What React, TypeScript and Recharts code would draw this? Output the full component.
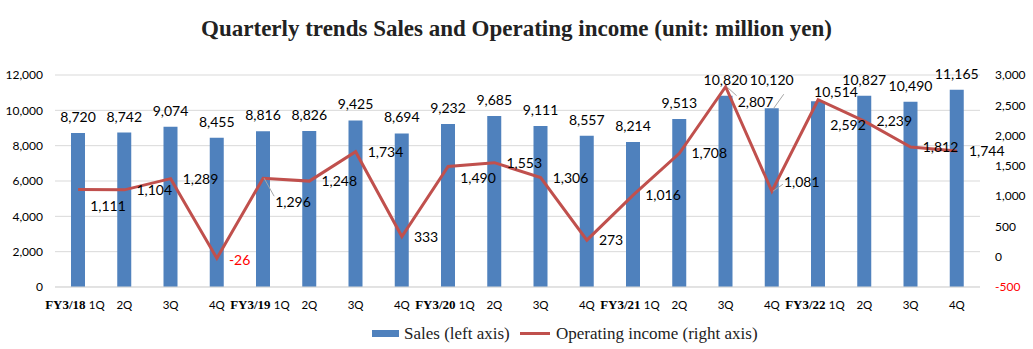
import {
  ComposedChart,
  Bar,
  Line,
  XAxis,
  YAxis,
  CartesianGrid,
  LabelList,
} from "recharts";

const quarters = [
  "FY3/18 1Q", "2Q", "3Q", "4Q",
  "FY3/19 1Q", "2Q", "3Q", "4Q",
  "FY3/20 1Q", "2Q", "3Q", "4Q",
  "FY3/21 1Q", "2Q", "3Q", "4Q",
  "FY3/22 1Q", "2Q", "3Q", "4Q",
];

const sales = [
  8720, 8742, 9074, 8455,
  8816, 8826, 9425, 8694,
  9232, 9685, 9111, 8557,
  8214, 9513, 10820, 10120,
  10514, 10827, 10490, 11165,
];

const operatingIncome = [
  1111, 1104, 1289, -26,
  1296, 1248, 1734, 333,
  1490, 1553, 1306, 273,
  1016, 1708, 2807, 1081,
  2592, 2239, 1812, 1744,
];

const leftTicks = [0, 2000, 4000, 6000, 8000, 10000, 12000];
const rightTicks = [-500, 0, 500, 1000, 1500, 2000, 2500, 3000];

// label placement tweaks (Excel moved a few labels around)
const incomeLabelDy = [17, 0, 0, 2, 24, 0, 0, 0, 12, 0, 0, 0, 0, 0, 15, -9, 25, 0, 0, 0];
const incomeLeaders = [4, 14, 15];
const salesLabelShift: Record<number, [number, number]> = {
  15: [0, -12],
  16: [18, 7],
};

const BAR_COLOR = "#4F81BD";
const LINE_COLOR = "#C0504D";
const GRID_COLOR = "#D9D9D9";
const SANS = "Lato, 'Noto Sans', sans-serif";
const SERIF = "'Liberation Serif', 'Times New Roman', serif";

const data = quarters.map((q, i) => ({
  quarter: q,
  sales: sales[i],
  income: operatingIncome[i],
}));

const fmt = (v: number) => v.toLocaleString("en-US");

const QuarterTick = (props: any) => {
  const { x, y, payload } = props;
  const label: string = payload.value;
  const parts = label.split(" ");
  if (parts.length > 1) {
    // fiscal-year labels hang to the left of the bar, like Excel does
    return (
      <text x={x - 33} y={y} dy="0.71em" textAnchor="start" fontSize={11.5} fill="#000">
        <tspan fontFamily={SERIF} fontWeight="bold" fontSize={13}>
          {parts[0] + " "}
        </tspan>
        <tspan fontFamily={SANS}>{parts[1]}</tspan>
      </text>
    );
  }
  return (
    <text x={x} y={y} dy="0.71em" textAnchor="middle" fontSize={11.5} fontFamily={SANS} fill="#000">
      {label}
    </text>
  );
};

const RightTick = (props: any) => {
  const { x, y, payload } = props;
  return (
    <text
      x={x}
      y={y}
      dy="0.355em"
      textAnchor="start"
      fontSize={12}
      fontFamily={SANS}
      fill={payload.value < 0 ? "#FF0000" : "#000"}
    >
      {fmt(payload.value)}
    </text>
  );
};

const SalesLabel = (props: any) => {
  const { x, y, width, value, index } = props;
  const [sx, sy] = salesLabelShift[index] || [0, 0];
  const cx = x + width / 2;
  return (
    <g>
      {sy < -5 && (
        <line x1={cx + 2} y1={y} x2={cx + 12} y2={y - 14} stroke="#A6A6A6" strokeWidth={1} />
      )}
      <text
        x={cx + sx}
        y={y - 16 + sy}
        dy="0.355em"
        textAnchor="middle"
        fontSize={14}
        fontFamily={SANS}
        fill="#000"
      >
        {fmt(value)}
      </text>
    </g>
  );
};

const IncomeLabel = (props: any) => {
  const { x, y, value, index } = props;
  const dy = incomeLabelDy[index] || 0;
  const tx = x + 12;
  const ty = y + dy;
  return (
    <g>
      {incomeLeaders.includes(index) && (
        <line x1={x + 1} y1={y} x2={tx - 1} y2={ty - (dy > 0 ? 6 : -2)} stroke="#A6A6A6" strokeWidth={1} />
      )}
      <text
        x={tx}
        y={ty}
        dy="0.355em"
        textAnchor="start"
        fontSize={14}
        fontFamily={SANS}
        fill={value < 0 ? "#FF0000" : "#000"}
      >
        {fmt(value)}
      </text>
    </g>
  );
};

const legendText = {
  position: "absolute" as const,
  top: 324,
  fontFamily: SERIF,
  fontSize: 17,
  lineHeight: "20px",
  color: "#222",
  whiteSpace: "nowrap" as const,
};

export default function App() {
  return (
    <div
      style={{
        position: "absolute",
        left: 0,
        top: 0,
        width: 1033,
        height: 349,
        background: "#fff",
        overflow: "hidden",
      }}
    >
      <div
        style={{
          position: "absolute",
          top: 14,
          left: 0,
          width: 1033,
          textAlign: "center",
          fontFamily: SERIF,
          fontWeight: "bold",
          fontSize: 23,
          lineHeight: "30px",
          color: "#222",
        }}
      >
        Quarterly trends Sales and Operating income (unit: million yen)
      </div>

      <ComposedChart
        width={1033}
        height={349}
        data={data}
        margin={{ top: 75, right: 8, bottom: 32, left: 5 }}
      >
        <CartesianGrid yAxisId="left" vertical={false} stroke={GRID_COLOR} />
        <XAxis
          dataKey="quarter"
          interval={0}
          tick={<QuarterTick />}
          tickLine={false}
          tickSize={4}
          tickMargin={10}
          height={30}
          axisLine={{ stroke: GRID_COLOR }}
        />
        <YAxis
          yAxisId="left"
          orientation="left"
          domain={[0, 12000]}
          ticks={leftTicks}
          width={50}
          axisLine={false}
          tickLine={false}
          tickSize={4}
          tickMargin={8}
          tickFormatter={fmt}
          tick={{ fontSize: 12, fontFamily: SANS, fill: "#000" }}
        />
        <YAxis
          yAxisId="right"
          orientation="right"
          domain={[-500, 3000]}
          ticks={rightTicks}
          width={45}
          axisLine={false}
          tickLine={false}
          tickSize={4}
          tickMargin={11}
          tick={<RightTick />}
        />
        <Bar
          yAxisId="left"
          dataKey="sales"
          fill={BAR_COLOR}
          barSize={14}
          isAnimationActive={false}
        >
          <LabelList dataKey="sales" content={<SalesLabel />} />
        </Bar>
        <Line
          yAxisId="right"
          type="linear"
          dataKey="income"
          stroke={LINE_COLOR}
          strokeWidth={3}
          dot={false}
          activeDot={false}
          isAnimationActive={false}
        >
          <LabelList dataKey="income" content={<IncomeLabel />} />
        </Line>
      </ComposedChart>

      <span style={{ position: "absolute", left: 372, top: 330, width: 27, height: 7, background: BAR_COLOR }} />
      <span style={{ ...legendText, left: 404 }}>Sales (left axis)</span>
      <span style={{ position: "absolute", left: 520, top: 332, width: 30, height: 3, background: LINE_COLOR }} />
      <span style={{ ...legendText, left: 556 }}>Operating income (right axis)</span>
    </div>
  );
}
